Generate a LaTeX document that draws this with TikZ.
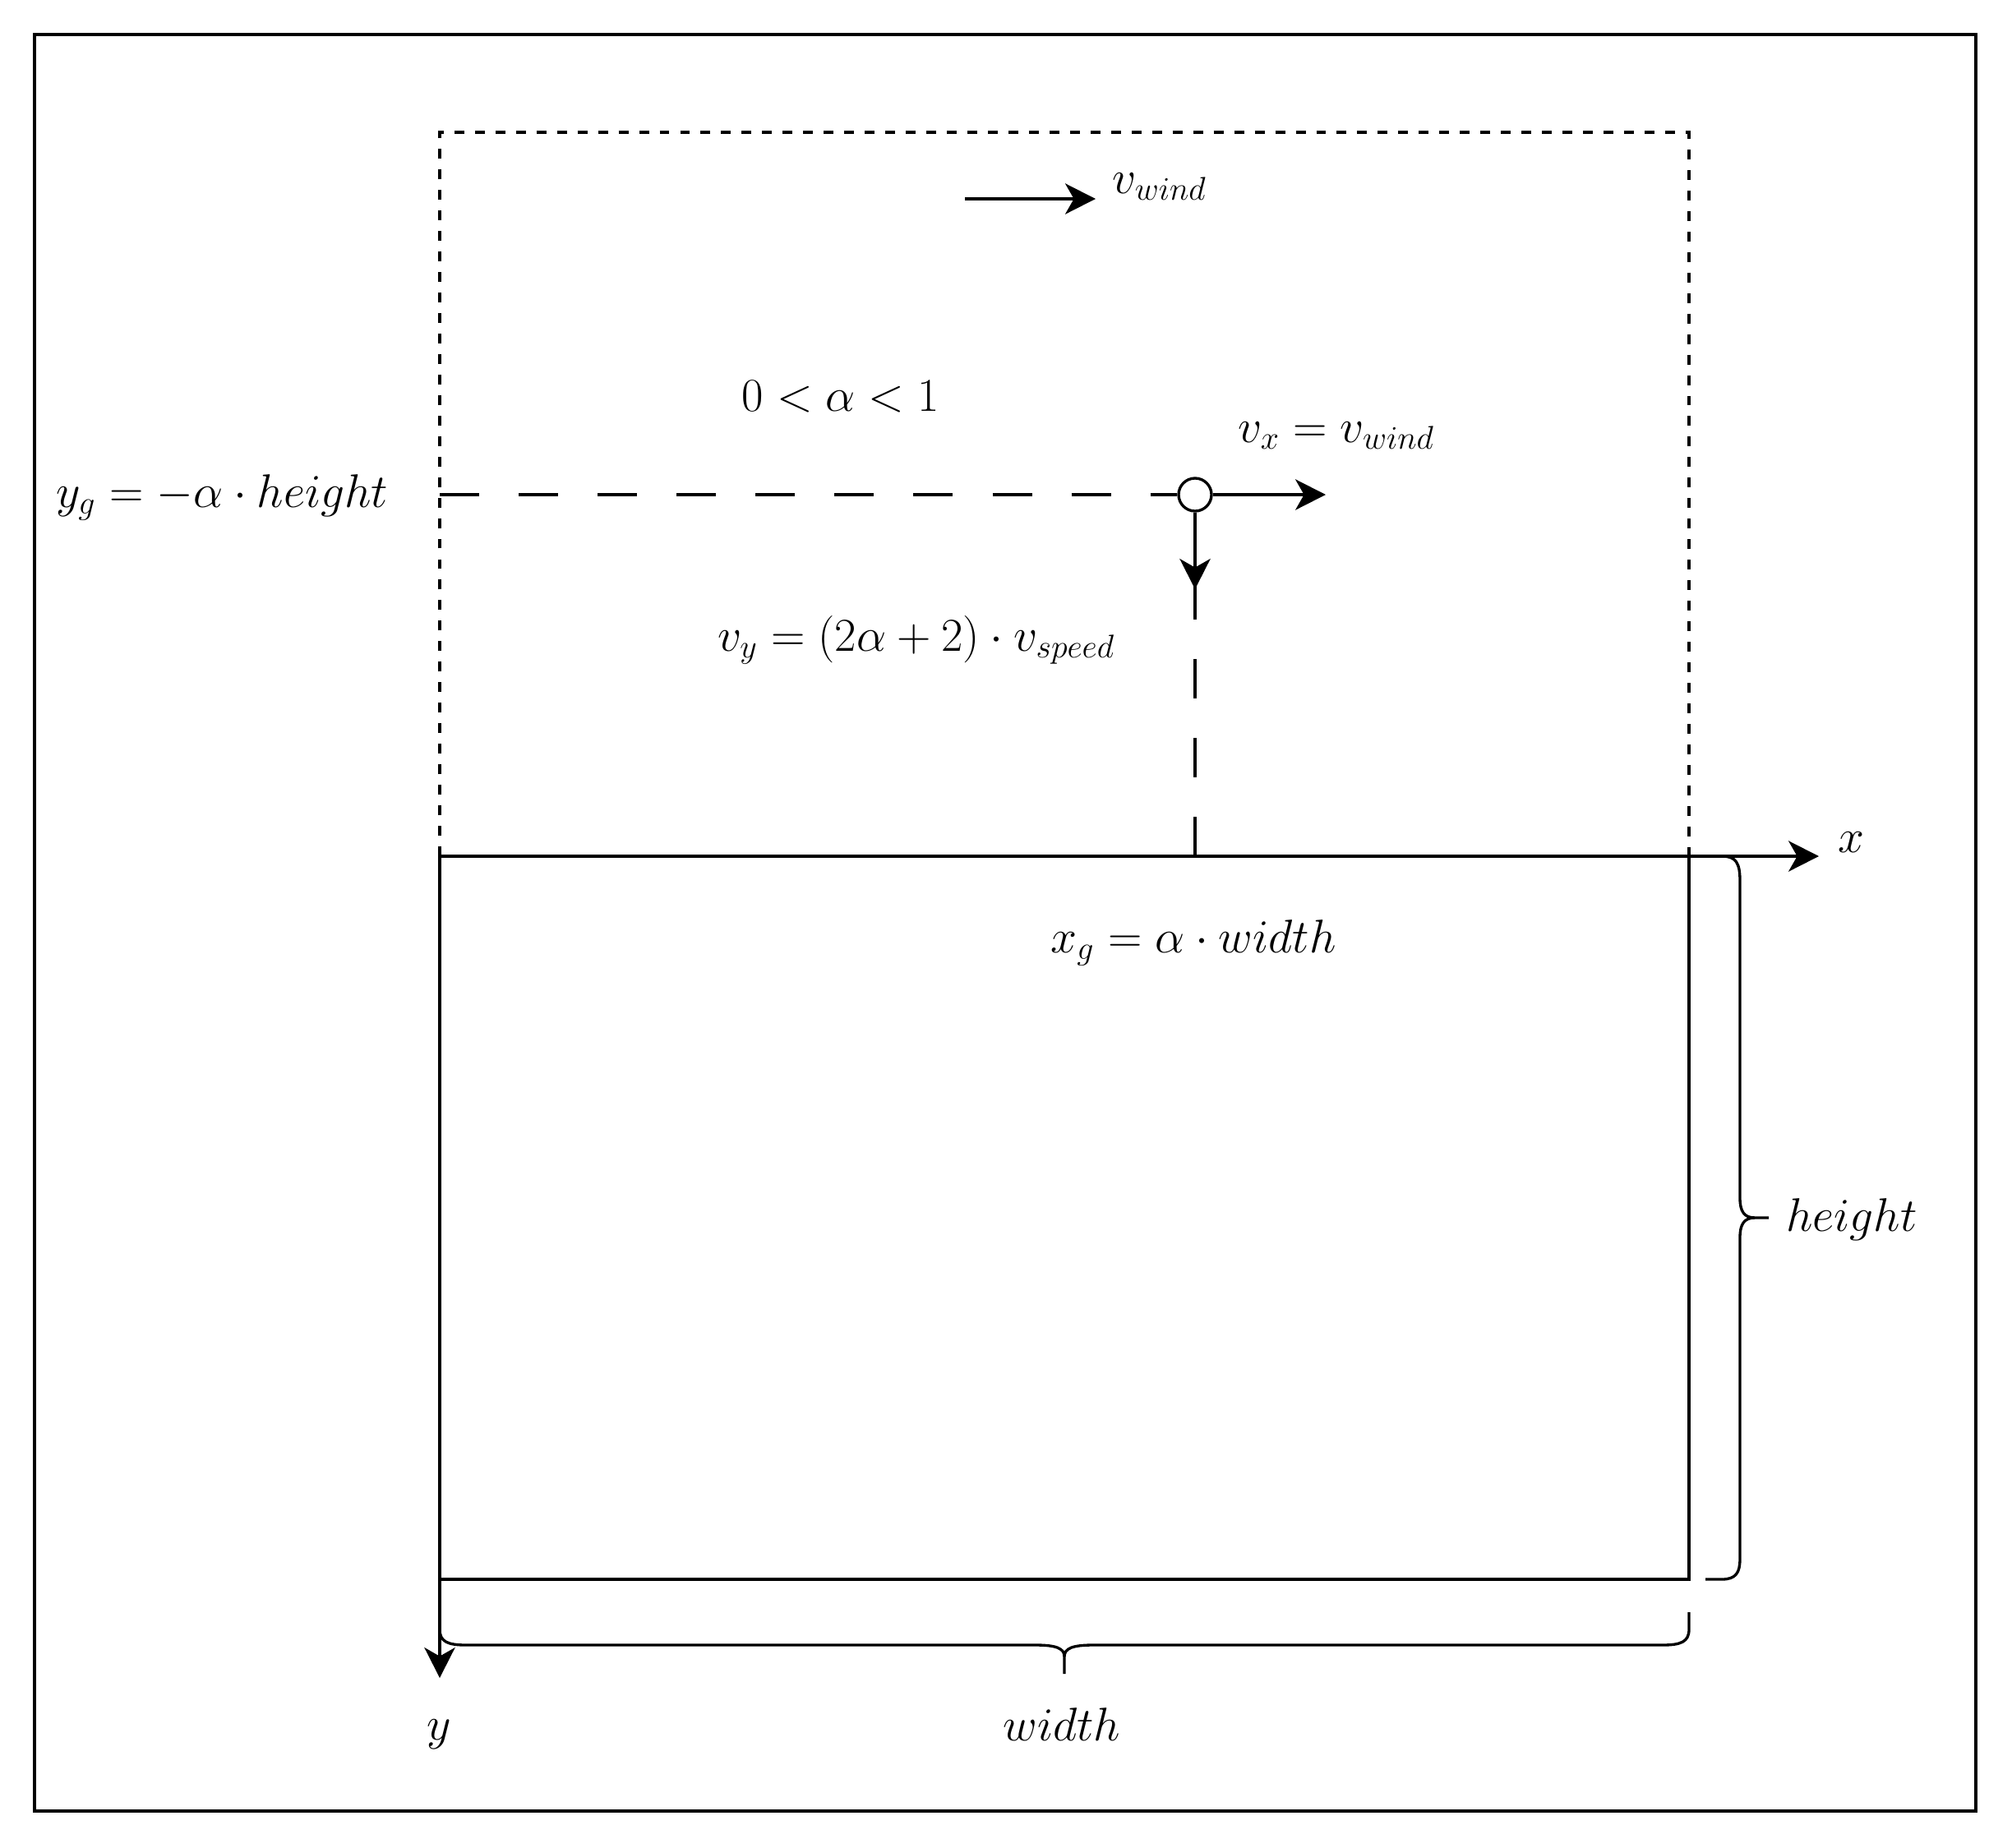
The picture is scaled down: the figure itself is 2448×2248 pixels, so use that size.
\documentclass[tikz,border=0pt]{standalone}
\usepackage{graphicx}
\usetikzlibrary{arrows.meta}
\newcommand{\lbltxt}[1]{\scalebox{0.945}{#1}}
\begin{document}
\begin{tikzpicture}[x=0.01cm,y=-0.01cm,line width=0.95pt,
  lbl/.style={inner sep=0pt,font=\fontsize{17.28}{20}\selectfont},
  arr/.style={-{Stealth[length=10.5pt,width=10.6pt,inset=3pt]}},
  dashln/.style={dash pattern=on 13.66pt off 13.66pt},
  dotln/.style={dash pattern=on 3.4pt off 3.7pt}]
\useasboundingbox (0,0) rectangle (2448,2248);
% outer frame
\draw (42,42) rectangle (2404,2204);
% key coordinates
\coordinate (O) at (535,1042);
\coordinate (TL) at (535,161);
\coordinate (TR) at (2055,161);
\coordinate (AR) at (2055,1042);
\coordinate (BR) at (2055,1922);
\coordinate (BL) at (535,1922);
\coordinate (xtip) at (2213,1042);
\coordinate (ytip) at (535,2042);
\coordinate (gx) at (1454,1042);
\coordinate (gl) at (535,602);
\coordinate (vxtip) at (1613,602);
\coordinate (vytip) at (1454,717);
\coordinate (w0) at (1174,242);
\coordinate (w1) at (1333,242);
% dotted upper region
\draw[dotln] (O) -- (TL) -- (TR) -- (AR);
% solid rectangle
\draw (O) -- (AR) -- (BR) -- (BL) -- cycle;
% axes
\draw[arr] (O) -- (xtip);
\draw[arr] (O) -- (ytip);
% point g
\node[circle,draw,fill=white,minimum size=0.4cm,inner sep=0pt] (g) at (1454,602) {};
\draw[dashln] (gl) -- (g.west);
\draw[dashln] (gx) -- (g.south);
\draw[arr] (g.east) -- (vxtip);
\draw[arr] (g.south) -- (vytip);
% wind arrow
\draw[arr] (w0) -- (w1);
% height brace
\draw (2075,1042) -- (2095,1042) .. controls (2112,1042) and (2117,1050) .. (2117,1072)
  -- (2117,1458) .. controls (2117,1474) and (2122,1482) .. (2135,1482) -- (2152,1482);
\draw (2075,1922) -- (2095,1922) .. controls (2112,1922) and (2117,1914) .. (2117,1897)
  -- (2117,1506) .. controls (2117,1490) and (2122,1482) .. (2135,1482);
% width brace
\draw (535,1962) -- (535,1983) .. controls (535,1998) and (545,2002) .. (567,2002)
  -- (1260,2002) .. controls (1285,2002) and (1295,2006) .. (1295,2016) -- (1295,2037);
\draw (2055,1962) -- (2055,1983) .. controls (2055,1998) and (2045,2002) .. (2023,2002)
  -- (1330,2002) .. controls (1305,2002) and (1295,2006) .. (1295,2016);
% labels
\node[lbl,anchor=base west] (lwind) at (1352,235) {\lbltxt{$v_{wind}$}};
\node[lbl,anchor=base] (lalpha) at (1023,500) {\lbltxt{$0<\alpha<1$}};
\node[lbl,anchor=base west] (lvx) at (1505,538) {\lbltxt{$v_x=v_{wind}$}};
\node[lbl,anchor=base] (lyg) at (270,617) {\lbltxt{$y_g=-\alpha\cdot height$}};
\node[lbl,anchor=base] (lvy) at (1115,792) {\lbltxt{$v_y=(2\alpha+2)\cdot v_{speed}$}};
\node[lbl,anchor=base] (lxg) at (1452,1159) {\lbltxt{$x_g=\alpha\cdot width$}};
\node[lbl,anchor=base] (lx) at (2252,1037) {\lbltxt{$x$}};
\node[lbl,anchor=base] (lh) at (2253,1498) {\lbltxt{$height$}};
\node[lbl,anchor=base] (lw) at (1292,2118) {\lbltxt{$width$}};
\node[lbl,anchor=base] (ly) at (534,2117) {\lbltxt{$y$}};
\end{tikzpicture}
\end{document}
